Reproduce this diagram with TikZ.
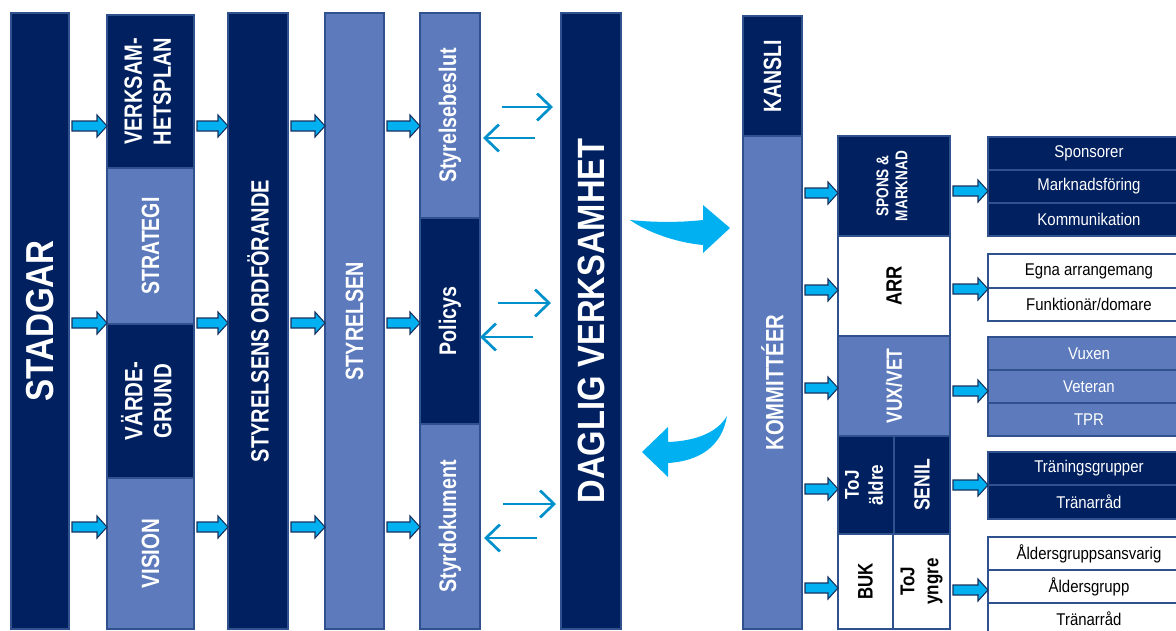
\documentclass[tikz,border=0pt]{standalone}
\usepackage{fontspec}
\setmainfont{Liberation Sans}
\usepackage{graphicx}
\usetikzlibrary{calc,arrows.meta}
\definecolor{navy}{RGB}{0,32,96}
\definecolor{lightb}{RGB}{92,122,188}
\definecolor{edge}{RGB}{47,82,143}
\definecolor{cyanA}{RGB}{0,176,240}
\definecolor{arredge}{RGB}{25,50,95}
\definecolor{thinb}{RGB}{0,145,205}
\newcommand\sq[3]{\scalebox{#1}[1]{\fontsize{#2}{#2}\selectfont #3}}
\newcommand\sqq[4]{\scalebox{#1}[1]{\fontsize{#2}{#3}\selectfont\begin{tabular}{@{}c@{}}#4\end{tabular}}}
\newcommand\bx[6]{\node[#6, minimum width={(#4-#2)*1pt}, minimum height={(#5-#3)*1pt}] (#1) at (#2,#3) {};}
\newcommand\barr[3]{\path[blockarrow] let \p1=(#1.east |- 0,#3), \p2=(#2.west |- 0,#3) in
  ({\x1+3pt},{\y1+5pt}) -- ({\x2-10pt},{\y1+5pt}) -- ({\x2-10pt},{\y1+11pt}) -- (\x2,\y1)
  -- ({\x2-10pt},{\y1-11pt}) -- ({\x2-10pt},{\y1-5pt}) -- ({\x1+3pt},{\y1-5pt}) -- cycle;}
\begin{document}
\begin{tikzpicture}[x=1pt,y=-1pt,
  box/.style={draw=edge, line width=1.3pt, inner sep=0pt, outer sep=0pt, anchor=north west},
  dk/.style={box, fill=navy}, lt/.style={box, fill=lightb}, wt/.style={box, fill=white},
  vl/.style={rotate=90, inner sep=0pt, font=\bfseries, text=white},
  vlk/.style={vl, text=black},
  hl/.style={inner sep=0pt, text=white}, hlk/.style={hl, text=black},
  blockarrow/.style={fill=cyanA, draw=arredge, line width=1.1pt, line join=miter},
  thinarr/.style={draw=thinb, line width=2.7pt, -{Straight Barb[length=14pt,width=27pt]}},
  curvarr/.style={fill=cyanA}]
\useasboundingbox (0,0) rectangle (1176,630);
\clip (0,0) rectangle (1176,630);
% columns
\bx{stadgar}{11}{13}{69}{629}{dk}
\bx{verk}{107}{15}{194}{168}{dk}
\bx{strat}{107}{168}{194}{324}{lt}
\bx{varde}{107}{324}{194}{478}{dk}
\bx{vision}{107}{478}{194}{629}{lt}
\bx{ordf}{228}{13}{288}{629}{dk}
\bx{styr}{325}{13}{384}{629}{lt}
\bx{beslut}{420}{13}{480}{218}{lt}
\bx{policy}{420}{218}{480}{424}{dk}
\bx{styrdok}{420}{424}{480}{629}{lt}
\bx{daglig}{561}{13}{621}{629}{dk}
\bx{kansli}{743}{16}{802}{136}{dk}
\bx{komm}{743}{136}{802}{629}{lt}
\bx{spons}{838}{136}{950}{236}{dk}
\bx{arr}{838}{236}{950}{336}{wt}
\bx{vux}{838}{336}{950}{436}{lt}
\bx{tojA}{838}{436}{894}{534}{dk}
\bx{senil}{894}{436}{950}{534}{dk}
\bx{buk}{838}{534}{893}{629}{wt}
\bx{tojB}{893}{534}{950}{629}{wt}
% right rows
\bx{r1}{988}{137}{1190}{170}{dk}
\bx{r2}{988}{170}{1190}{203}{dk}
\bx{r3}{988}{203}{1190}{236}{dk}
\bx{r4}{988}{254}{1190}{288}{wt}
\bx{r5}{988}{288}{1190}{321}{wt}
\bx{r6}{988}{337}{1190}{370}{lt}
\bx{r7}{988}{370}{1190}{403}{lt}
\bx{r8}{988}{403}{1190}{436}{lt}
\bx{r9}{988}{452}{1190}{485}{dk}
\bx{r10}{988}{485}{1190}{519}{dk}
\bx{r11}{988}{537}{1190}{570}{wt}
\bx{r12}{988}{570}{1190}{603}{wt}
\bx{r13}{988}{603}{1190}{636}{wt}
% vertical labels
\node[vl] at (stadgar.center) {\sq{0.85}{39}{STADGAR}};
\node[vl] at (verk.center) {\sqq{0.8}{25}{29}{VERKSAM-\\HETSPLAN}};
\node[vl] at (strat.center) {\sq{0.78}{25}{STRATEGI}};
\node[vl] at (varde.center) {\sqq{0.82}{25}{29}{VÄRDE-\\GRUND}};
\node[vl] at (vision.center) {\sq{0.82}{25}{VISION}};
\node[vl] at (ordf.center) {\sq{0.8}{25}{STYRELSENS ORDFÖRANDE}};
\node[vl] at (styr.center) {\sq{0.79}{25}{STYRELSEN}};
\node[vl] at (beslut.center) {\sq{0.82}{24}{Styrelsebeslut}};
\node[vl] at (policy.center) {\sq{0.82}{24}{Policys}};
\node[vl] at (styrdok.center) {\sq{0.82}{24}{Styrdokument}};
\node[vl] at (daglig.center) {\sq{0.86}{38}{DAGLIG VERKSAMHET}};
\node[vl] at (kansli.center) {\sq{0.78}{25}{KANSLI}};
\node[vl] at (komm.center) {\sq{0.81}{25}{KOMMITTÉER}};
\node[vl] at (spons.center) {\sqq{0.8}{17}{19}{SPONS \&\\MARKNAD}};
\node[vlk] at (arr.center) {\sq{0.83}{22}{ARR}};
\node[vl] at (vux.center) {\sq{0.8}{22}{VUX/VET}};
\node[vl] at (tojA.center) {\sqq{0.85}{20}{24}{ToJ\\äldre}};
\node[vl] at (senil.center) {\sq{0.8}{22}{SENIL}};
\node[vlk] at (buk.center) {\sq{0.8}{21}{BUK}};
\node[vlk] at (tojB.center) {\sqq{0.85}{20}{24}{ToJ\\yngre}};
% horizontal labels
\node[hl] at (r1.center) {\sq{0.88}{17}{Sponsorer}};
\node[hl] at (r2.center) {\sq{0.88}{17}{Marknadsföring}};
\node[hl] at (r3.center) {\sq{0.88}{17}{Kommunikation}};
\node[hlk] at (r4.center) {\sq{0.88}{17}{Egna arrangemang}};
\node[hlk] at (r5.center) {\sq{0.88}{17}{Funktionär/domare}};
\node[hl] at (r6.center) {\sq{0.88}{17}{Vuxen}};
\node[hl] at (r7.center) {\sq{0.88}{17}{Veteran}};
\node[hl] at (r8.center) {\sq{0.88}{17}{TPR}};
\node[hl] at (r9.center) {\sq{0.88}{17}{Träningsgrupper}};
\node[hl] at (r10.center) {\sq{0.88}{17}{Tränarråd}};
\node[hlk] at (r11.center) {\sq{0.88}{17}{Åldersgruppsansvarig}};
\node[hlk] at (r12.center) {\sq{0.88}{17}{Åldersgrupp}};
\node[hlk] at ($(r13.north)+(0,16)$) {\sq{0.88}{17}{Tränarråd}};
% block arrows
\barr{stadgar}{verk}{126}
\barr{stadgar}{strat}{323}
\barr{stadgar}{vision}{527}
\barr{verk}{ordf}{126}
\barr{strat}{ordf}{323}
\barr{vision}{ordf}{527}
\barr{ordf}{styr}{126}
\barr{ordf}{styr}{323}
\barr{ordf}{styr}{527}
\barr{styr}{beslut}{126}
\barr{styr}{policy}{323}
\barr{styr}{styrdok}{527}
\barr{komm}{spons}{193}
\barr{komm}{arr}{290}
\barr{komm}{vux}{388}
\barr{komm}{tojA}{489}
\barr{komm}{buk}{588}
\barr{spons}{r2}{191}
\barr{arr}{r4}{289}
\barr{vux}{r7}{391}
\barr{senil}{r9}{485}
\barr{tojB}{r12}{590}
% thin arrows
\draw[thinarr] ($(beslut.east |- 0,107)+(22,0)$) -- ($(daglig.west |- 0,107)+(-8,0)$);
\draw[thinarr] ($(daglig.west |- 0,138)+(-26,0)$) -- ($(beslut.east |- 0,138)+(3,0)$);
\draw[thinarr] ($(policy.east |- 0,303)+(18,0)$) -- ($(daglig.west |- 0,303)+(-10,0)$);
\draw[thinarr] ($(daglig.west |- 0,337)+(-28,0)$) -- ($(policy.east |- 0,337)+(0,0)$);
\draw[thinarr] ($(styrdok.east |- 0,504)+(23,0)$) -- ($(daglig.west |- 0,504)+(-5,0)$);
\draw[thinarr] ($(daglig.west |- 0,538)+(-24,0)$) -- ($(styrdok.east |- 0,538)+(4,0)$);
% curved arrows
\fill[curvarr] (630,220) .. controls (660,223) and (685,222) .. (703,220) -- (703,205) -- (730,228) -- (703,253) -- (703,245) .. controls (680,243) and (650,234) .. (630,220) -- cycle;
\fill[curvarr] (727,416) .. controls (717,433) and (695,441) .. (668,442) -- (668,427) -- (642,452) -- (668,477) -- (668,463) .. controls (700,461) and (722,446) .. (727,416) -- cycle;
\end{tikzpicture}
\end{document}
